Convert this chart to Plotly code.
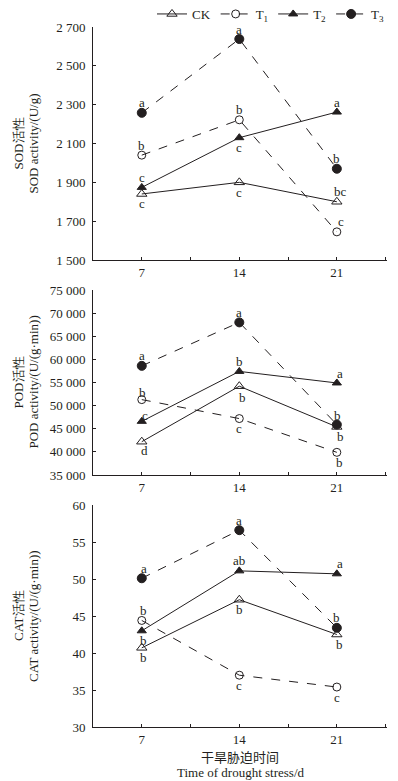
import plotly.graph_objects as go
from plotly.subplots import make_subplots

days = [7, 14, 21]
series_names = ["CK", "T<sub>1</sub>", "T<sub>2</sub>", "T<sub>3</sub>"]

# SOD activity (U/g)
sod_ck = [1840, 1900, 1800]
sod_t1 = [2040, 2222, 1645]
sod_t2 = [1874, 2130, 2262]
sod_t3 = [2258, 2638, 1970]
sod_letters = {"CK": ["c", "c", "bc"], "T1": ["b", "b", "c"], "T2": ["c", "c", "a"], "T3": ["a", "a", "b"]}

# POD activity (U/(g·min))
pod_ck = [42200, 54200, 45400]
pod_t1 = [51300, 47200, 39900]
pod_t2 = [46600, 57400, 54900]
pod_t3 = [58600, 68000, 45900]
pod_letters = {"CK": ["d", "b", "b"], "T1": ["b", "c", "b"], "T2": ["c", "b", "a"], "T3": ["a", "a", "b"]}

# CAT activity (U/(g·min))
cat_ck = [40.7, 47.2, 42.5]
cat_t1 = [44.4, 37.0, 35.4]
cat_t2 = [43.0, 51.1, 50.7]
cat_t3 = [50.1, 56.6, 43.4]
cat_letters = {"CK": ["b", "b", "b"], "T1": ["b", "c", "c"], "T2": ["b", "ab", "a"], "T3": ["a", "a", "b"]}

# label placement: +1 above, -1 below ; x offsets in px
sod_pos = {"CK": [-1, -1, 1], "T1": [1, 1, 1], "T2": [1, -1, 1], "T3": [1, 1, 1]}
sod_dx = {"CK": [0, 0, 4], "T1": [0, 0, 4], "T2": [0, 0, 0], "T3": [0, 0, 0]}
pod_pos = {"CK": [-1, -1, -1], "T1": [1, -1, -1], "T2": [1, 1, 1], "T3": [1, 1, 1]}
pod_dx = {"CK": [3, 3, 4], "T1": [1, 0, 3], "T2": [3, 0, 3], "T3": [0, 0, 1]}
pod_dy = {"CK": [9, 11, 10], "T1": [7, 10, 10], "T2": [6, 10, 9], "T3": [10, 10, 9]}
cat_pos = {"CK": [-1, -1, -1], "T1": [1, -1, -1], "T2": [-1, 1, 1], "T3": [1, 1, 1]}
cat_dx = {"CK": [2, 0, 3], "T1": [2, 0, 0], "T2": [2, 0, 3], "T3": [2, 0, 0]}

sod_ticks = [1500, 1700, 1900, 2100, 2300, 2500, 2700]
sod_ticktext = ["1 500", "1 700", "1 900", "2 100", "2 300", "2 500", "2 700"]
pod_ticks = [35000, 40000, 45000, 50000, 55000, 60000, 65000, 70000, 75000]
pod_ticktext = ["35 000", "40 000", "45 000", "50 000", "55 000", "60 000", "65 000", "70 000", "75 000"]
cat_ticks = [30, 35, 40, 45, 50, 55, 60]
cat_ticktext = ["30", "35", "40", "45", "50", "55", "60"]

x_ticks = [3.5, 7, 10.5, 14, 17.5, 21, 24.5]
x_ticktext = ["", "7", "", "14", "", "21", ""]

W, H = 398, 781
OFF = 8  # page body margin offset
ML = 93 - OFF
PR = 387 - OFF  # plot right edge in figure pixels
MR = W - PR
PW = PR - ML
FONT = "Liberation Serif, Times New Roman, serif"
TXT = "#231f20"

def py(px):
    return 1 - (px - OFF) / H

def pxx(px):
    return (px - OFF - ML) / PW

fig = make_subplots(rows=3, cols=1)
domains = [(py(260), py(27)), (py(475), py(290)), (py(727), py(505))]

styles = {
    "CK": dict(symbol="triangle-up-open", dash="solid", size=9),
    "T1": dict(symbol="circle-open", dash="dash", size=8),
    "T2": dict(symbol="triangle-up", dash="solid", size=8),
    "T3": dict(symbol="circle", dash="dash", size=9),
}
keys = ["CK", "T1", "T2", "T3"]

panels = [
    ([sod_ck, sod_t1, sod_t2, sod_t3], sod_letters, sod_pos, sod_dx, None, [1500, 2700], sod_ticks, sod_ticktext,
     "SOD活性", "SOD activity/(U/g)"),
    ([pod_ck, pod_t1, pod_t2, pod_t3], pod_letters, pod_pos, pod_dx, pod_dy, [35000, 75000], pod_ticks, pod_ticktext,
     "POD活性", "POD activity/(U/(g·min))"),
    ([cat_ck, cat_t1, cat_t2, cat_t3], cat_letters, cat_pos, cat_dx, None, [30, 60], cat_ticks, cat_ticktext,
     "CAT活性", "CAT activity/(U/(g·min))"),
]

annotations = []
for r, (vals, letters, pos, dx, dy, yr, yt, ytt, t1, t2) in enumerate(panels, start=1):
    for k, name, v in zip(keys, series_names, vals):
        st = styles[k]
        fig.add_trace(go.Scatter(
            x=days, y=v, mode="lines+markers", name=name,
            line=dict(color="#231f20", width=1, dash=st["dash"]),
            marker=dict(symbol=st["symbol"], size=st["size"], color="#231f20",
                        line=dict(color="#231f20", width=1)),
            showlegend=(r == 1), legendgroup=k,
        ), row=r, col=1)
        for i in range(3):
            off = (dy[k][i] if dy else 10)
            annotations.append(dict(
                x=days[i], y=v[i], xref=f"x{'' if r == 1 else r}", yref=f"y{'' if r == 1 else r}",
                text=letters[k][i], showarrow=False, xshift=dx[k][i],
                xanchor="center", yanchor="middle",
                yshift=pos[k][i] * off, font=dict(family=FONT, size=13, color=TXT)))
    ax = "yaxis" if r == 1 else f"yaxis{r}"
    xx = "xaxis" if r == 1 else f"xaxis{r}"
    fig.layout[ax].update(domain=domains[r - 1], range=yr, tickvals=yt, ticktext=ytt, automargin=False,
                          showline=True, linecolor="#231f20", linewidth=1, ticks="inside",
                          ticklen=3, tickcolor="#231f20", showgrid=False, zeroline=False,
                          ticklabelstandoff=4,
                          tickfont=dict(family=FONT, size=13, color=TXT))
    fig.layout[xx].update(range=[3.5, 24.6], tickvals=x_ticks, ticktext=x_ticktext, automargin=False,
                          showline=True, linecolor="#231f20", linewidth=1, ticks="inside",
                          ticklen=3, tickcolor="#231f20", showgrid=False, zeroline=False,
                          ticklabelstandoff=0,
                          tickfont=dict(family=FONT, size=13, color=TXT))
    mid = (domains[r - 1][0] + domains[r - 1][1]) / 2
    annotations.append(dict(x=pxx(18), y=mid, xref="paper", yref="paper", text=t1,
                            xanchor="center", yanchor="middle",
                            textangle=-90, showarrow=False, font=dict(family=FONT, size=13, color=TXT)))
    annotations.append(dict(x=pxx(33), y=mid, xref="paper", yref="paper", text=t2,
                            xanchor="center", yanchor="middle",
                            textangle=-90, showarrow=False, font=dict(family=FONT, size=13, color=TXT)))

annotations.append(dict(x=pxx(240), y=py(756), xref="paper", yref="paper", text="干旱胁迫时间",
                        xanchor="center", yanchor="middle",
                        showarrow=False, font=dict(family="Noto Sans CJK SC", size=13, color=TXT)))
annotations.append(dict(x=pxx(240), y=py(772), xref="paper", yref="paper",
                        xanchor="center", yanchor="middle",
                        text="Time of drought stress/d", showarrow=False,
                        font=dict(family=FONT, size=13, color=TXT)))

fig.update_layout(
    template="none",
    width=W, height=H, margin=dict(l=ML, r=MR, t=0, b=0, autoexpand=False),
    paper_bgcolor="white", plot_bgcolor="white",
    annotations=annotations,
    legend=dict(orientation="h", x=pxx(152), xanchor="left", y=py(14), yanchor="middle",
                font=dict(family=FONT, size=13, color=TXT), itemwidth=30, tracegroupgap=0,
                bgcolor="rgba(0,0,0,0)"),
)

fig.write_html("out.html")
